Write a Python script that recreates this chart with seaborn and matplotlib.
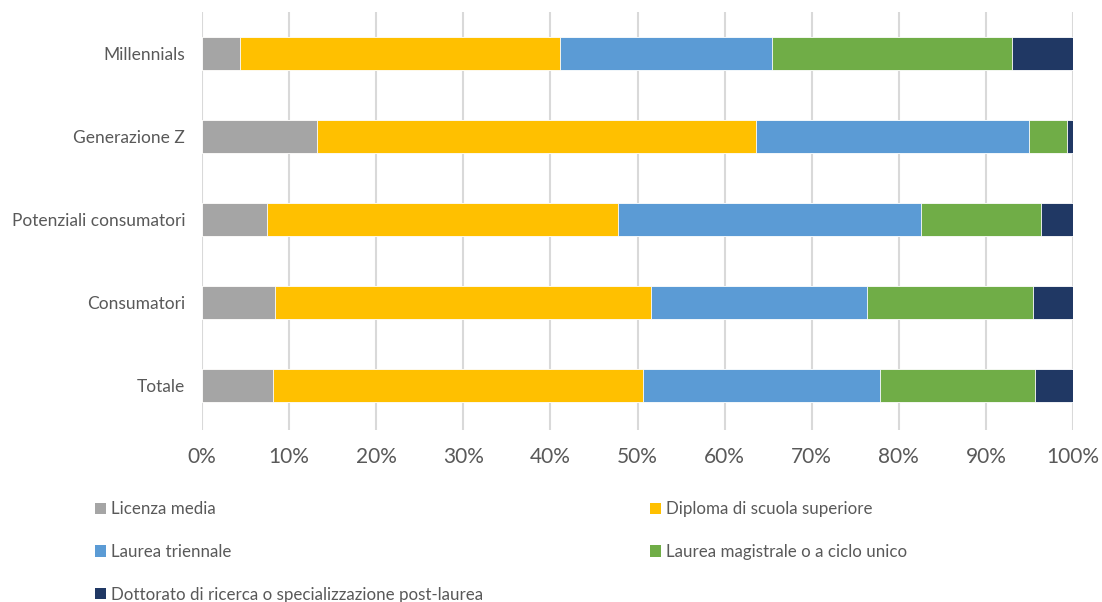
import matplotlib
matplotlib.use("Agg")
import matplotlib.pyplot as plt
from matplotlib.patches import Patch
import numpy as np
import pandas as pd
import seaborn as sns

categories = ["Millennials", "Generazione Z", "Potenziali consumatori", "Consumatori", "Totale"]
series_names = [
    "Licenza media",
    "Diploma di scuola superiore",
    "Laurea triennale",
    "Laurea magistrale o a ciclo unico",
    "Dottorato di ricerca o specializzazione post-laurea",
]
licenza_media = [4.4, 13.2, 7.5, 8.4, 8.1]
diploma = [36.7, 50.4, 40.3, 43.2, 42.5]
laurea_triennale = [24.3, 31.4, 34.7, 24.7, 27.2]
laurea_magistrale = [27.6, 4.3, 13.8, 19.1, 17.8]
dottorato = [7.0, 0.7, 3.7, 4.6, 4.4]
tick_labels = ["0%", "10%", "20%", "30%", "40%", "50%", "60%", "70%", "80%", "90%", "100%"]

colors = ["#A5A5A5", "#FFC000", "#5B9BD5", "#70AD47", "#203864"]

sns.set_theme(style="white")
plt.rcParams["font.family"] = ["Lato", "DejaVu Sans"]

# cumulative shares per category, normalised so every stack ends at 100%
series = [licenza_media, diploma, laurea_triennale, laurea_magistrale, dottorato]
cum = np.cumsum(np.array(series, dtype=float), axis=0)
cum = cum / cum[-1] * 100
df = pd.DataFrame({"categoria": categories})
for name, row in zip(series_names, cum):
    df[name] = row

fig = plt.figure(figsize=(11.02, 6.02), dpi=100)
ax = fig.add_axes([202 / 1102, 1 - 430 / 602, (1073 - 202) / 1102, 418 / 602])

# draw stacked bars back to front: the widest cumulative segment first
for name, col in reversed(list(zip(series_names, colors))):
    sns.barplot(data=df, x=name, y="categoria", order=categories, color=col,
                width=0.4, orient="h", ax=ax, edgecolor="white", linewidth=0.6,
                saturation=1)

ax.set_xlim(0, 100)
ax.set_ylim(4.54, -0.5)
ax.set_xticks(np.arange(0, 101, 10))
ax.set_xticklabels(tick_labels)
ax.xaxis.grid(True, color="#D9D9D9", linewidth=1.5)
ax.yaxis.grid(False)
ax.set_axisbelow(True)
for s in ax.spines.values():
    s.set_visible(False)
ax.set_xlabel("")
ax.set_ylabel("")
ax.tick_params(axis="x", length=0, pad=12, labelsize=15, labelcolor="#595959")
ax.tick_params(axis="y", length=0, pad=12, labelsize=12.5, labelcolor="#595959")

handles = [Patch(facecolor=c, edgecolor="none") for c in colors]
# row-wise ordering across two columns
order = [0, 2, 4, 1, 3]
leg = fig.legend([handles[i] for i in order], [series_names[i] for i in order],
                 ncol=2, loc="upper left", bbox_to_anchor=(80 / 1102, 1 - 486 / 602),
                 frameon=False, fontsize=12.2, labelcolor="#595959",
                 handlelength=0.65, handleheight=0.65, handletextpad=0.3,
                 labelspacing=1.58, columnspacing=9.8)

fig.savefig("out.png", dpi=100, facecolor="white")
